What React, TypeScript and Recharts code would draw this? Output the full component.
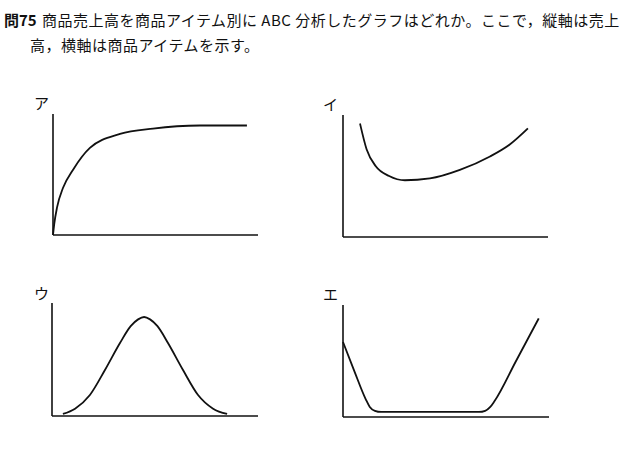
import React from "react";
import { LineChart, Line, XAxis, YAxis } from "recharts";

// ---- text ----
const questionNo = "問75";
const line1 = "商品売上高を商品アイテム別に ABC 分析したグラフはどれか。ここで，縦軸は売上";
const line2 = "高，横軸は商品アイテムを示す。";
const panelLabels = ["ア", "イ", "ウ", "エ"];

// ---- series (x: item order 0-100, y: sales 0-100) ----
const seriesA = [
  { x: 0, y: 0 },
  { x: 0.6, y: 9 },
  { x: 2, y: 23 },
  { x: 4.9, y: 39 },
  { x: 9.8, y: 54 },
  { x: 18, y: 72 },
  { x: 32.7, y: 83.5 },
  { x: 48.8, y: 88 },
  { x: 71.7, y: 90.5 },
  { x: 94.6, y: 90.5 },
];
const seriesI = [
  { x: 8.3, y: 93 },
  { x: 11.5, y: 72 },
  { x: 16, y: 58 },
  { x: 22.5, y: 50 },
  { x: 30.2, y: 46.5 },
  { x: 42.4, y: 48 },
  { x: 57, y: 55 },
  { x: 71.7, y: 66 },
  { x: 81.5, y: 76 },
  { x: 90.2, y: 89 },
];
const seriesU = [
  { x: 5.3, y: 1.8 },
  { x: 11.2, y: 6.5 },
  { x: 18.4, y: 18.6 },
  { x: 25.7, y: 40.7 },
  { x: 33, y: 64.6 },
  { x: 38.2, y: 79.5 },
  { x: 41.8, y: 85.5 },
  { x: 44.7, y: 87.6 },
  { x: 47.6, y: 85.5 },
  { x: 51.2, y: 79.5 },
  { x: 56.3, y: 64.6 },
  { x: 63.6, y: 40.7 },
  { x: 70.9, y: 18.6 },
  { x: 78.2, y: 6.5 },
  { x: 85, y: 1.8 },
];
const seriesE = [
  { x: 0, y: 67 },
  { x: 5.5, y: 41 },
  { x: 11, y: 16 },
  { x: 13, y: 9 },
  { x: 15.5, y: 5.5 },
  { x: 18.5, y: 4.5 },
  { x: 66, y: 4.5 },
  { x: 69, y: 5.5 },
  { x: 71.5, y: 9 },
  { x: 73.5, y: 14 },
  { x: 84, y: 50 },
  { x: 95, y: 88 },
];

type Pt = { x: number; y: number };

const PAD = 6;

function Panel({
  data,
  left,
  top,
  w,
  h,
  label,
  labelX,
  labelY,
  curve,
}: {
  data: Pt[];
  left: number;
  top: number;
  w: number;
  h: number;
  label: string;
  labelX: number;
  labelY: number;
  curve: any;
}) {
  return (
    <>
      <div
        style={{
          position: "absolute",
          left: labelX,
          top: labelY,
          fontSize: 15,
          lineHeight: "15px",
          fontFamily: "'Noto Sans CJK JP', sans-serif",
          color: "#111",
        }}
      >
        {label}
      </div>
      <div style={{ position: "absolute", left: left - PAD, top: top - PAD }}>
        <LineChart
          width={w + PAD * 2}
          height={h + PAD * 2}
          data={data}
          margin={{ top: PAD, right: PAD, bottom: PAD - 1, left: PAD - 1 }}
        >
          <XAxis
            type="number"
            dataKey="x"
            domain={[0, 100]}
            tick={false}
            tickLine={false}
            height={1}
            axisLine={{ stroke: "#111", strokeWidth: 1.6 }}
          />
          <YAxis
            type="number"
            domain={[0, 100]}
            tick={false}
            tickLine={false}
            width={1}
            axisLine={{ stroke: "#111", strokeWidth: 1.6 }}
          />
          <Line
            type={curve}
            dataKey="y"
            stroke="#111"
            strokeWidth={1.8}
            dot={false}
            isAnimationActive={false}
          />
        </LineChart>
      </div>
    </>
  );
}

const textStyle: React.CSSProperties = {
  position: "absolute",
  fontSize: 15,
  lineHeight: "16px",
  whiteSpace: "pre",
  letterSpacing: 0.5,
  fontFamily: "'Noto Sans CJK JP', sans-serif",
  color: "#111",
};

export default function App() {
  return (
    <div
      style={{
        position: "fixed",
        left: 0,
        top: 0,
        width: 625,
        height: 453,
        background: "#fff",
        overflow: "hidden",
      }}
    >
      <div style={{ ...textStyle, left: 4, top: 12, fontWeight: 700, letterSpacing: 0 }}>{questionNo}</div>
      <div style={{ ...textStyle, left: 42, top: 12 }}>{line1}</div>
      <div style={{ ...textStyle, left: 30, top: 37 }}>{line2}</div>

      <Panel data={seriesA} left={53} top={114} w={205} h={121} label={panelLabels[0]} labelX={34} labelY={95} curve="monotone" />
      <Panel data={seriesI} left={343} top={115} w={205} h={122} label={panelLabels[1]} labelX={323} labelY={96} curve="monotone" />
      <Panel data={seriesU} left={52} top={303} w={206} h={113} label={panelLabels[2]} labelX={34} labelY={285} curve="monotone" />
      <Panel data={seriesE} left={343} top={305} w={206} h={112} label={panelLabels[3]} labelX={323} labelY={286} curve="monotone" />
    </div>
  );
}
